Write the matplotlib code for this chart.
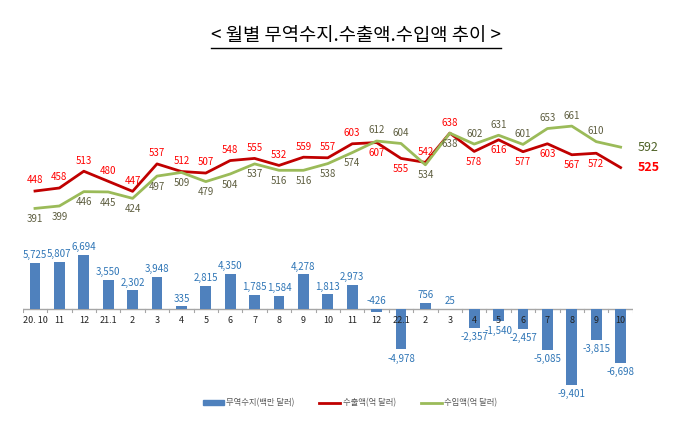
import matplotlib
matplotlib.use('Agg')
import matplotlib.pyplot as plt
from matplotlib.lines import Line2D
from matplotlib.patches import Patch
import numpy as np

plt.rcParams['font.family'] = ['Noto Sans CJK KR', 'DejaVu Sans']

months = ['20. 10', '11', '12', '21.1', '2', '3', '4', '5', '6', '7', '8', '9', '10',
          '11', '12', '22.1', '2', '3', '4', '5', '6', '7', '8', '9', '10']
balance = [5725, 5807, 6694, 3550, 2302, 3948, 335, 2815, 4350, 1785, 1584, 4278, 1813,
           2973, -426, -4978, 756, 25, -2357, -1540, -2457, -5085, -9401, -3815, -6698]
exports = [448, 458, 513, 480, 447, 537, 512, 507, 548, 555, 532, 559, 557,
           603, 607, 555, 542, 638, 578, 616, 577, 603, 567, 572, 525]
imports = [391, 399, 446, 445, 424, 497, 509, 479, 504, 537, 516, 516, 538,
           574, 612, 604, 534, 638, 602, 631, 601, 653, 661, 610, 592]
# label above (1) or below (-1) the line
exp_pos = [1] * 14 + [-1, -1, 1, 1, -1, -1, -1, -1, -1, -1]
imp_pos = [-1] * 14 + [1, 1, -1, -1, 1, 1, 1, 1, 1, 1]

BLUE = '#4F81BD'
RED = '#C00000'
GREEN = '#9BBB59'

fig = plt.figure(figsize=(6.81, 4.30), dpi=100)
W, H = 681, 430
ax = fig.add_axes([22.8 / W, 1 - 395 / H, 610 / W, 325 / H])
ax2 = ax.twinx()
x = np.arange(len(months))

ax.bar(x, balance, width=0.45, color=BLUE, zorder=2)
ax.set_xlim(-0.5, len(months) - 0.5)
ax.set_ylim(-10617, 29506)
ax.axhline(0, color='#A6A6A6', lw=1, zorder=1)
for b in np.arange(-0.5, len(months), 1):
    ax.plot([b, b], [0, -400], color='#A6A6A6', lw=0.8, zorder=1)

for i, v in enumerate(balance):
    # small negative values get their label above the axis, like the original
    if v >= 0 or v > -1000:
        ax.annotate(f'{v:,}', (i, max(v, 0)), xytext=(0, 2), textcoords='offset points',
                    ha='center', va='bottom', fontsize=7, color='#2E75B6')
    else:
        ax.annotate(f'{v:,}', (i, v), xytext=(0, -3), textcoords='offset points',
                    ha='center', va='top', fontsize=7, color='#2E75B6')
for i, m in enumerate(months):
    ax.annotate(m, (i, 0), xytext=(0, -5), textcoords='offset points',
                ha='center', va='top', fontsize=6.5, color='#222222', zorder=5)

ax2.plot(x, exports, color=RED, lw=2, zorder=3)
ax2.plot(x, imports, color=GREEN, lw=2, zorder=3)
ax2.set_ylim(-221, 845)

for i in range(len(months) - 1):
    d = exp_pos[i]
    ax2.annotate(str(exports[i]), (i, exports[i]), xytext=(0, 4 * d), textcoords='offset points',
                 ha='center', va='bottom' if d > 0 else 'top', fontsize=7, color='#FF0000')
    d = imp_pos[i]
    ax2.annotate(str(imports[i]), (i, imports[i]), xytext=(0, 4 * d), textcoords='offset points',
                 ha='center', va='bottom' if d > 0 else 'top', fontsize=7, color='#5E5E40')
last = len(months) - 1
ax2.annotate(str(exports[last]), (last, exports[last]), xytext=(12, 0), textcoords='offset points',
             ha='left', va='center', fontsize=9, fontweight='bold', color='#FF0000')
ax2.annotate(str(imports[last]), (last, imports[last]), xytext=(12, 0), textcoords='offset points',
             ha='left', va='center', fontsize=9, color='#4F6228')

for a in (ax, ax2):
    for s in a.spines.values():
        s.set_visible(False)
    a.set_xticks([])
    a.set_yticks([])

title = fig.text(356 / W, 1 - 36 / H, '< 월별 무역수지.수출액.수입액 추이 >',
                 ha='center', va='center', fontsize=13.5, color='black')
fig.canvas.draw()
bb = title.get_window_extent(fig.canvas.get_renderer())
fig.add_artist(Line2D([bb.x0 / W, bb.x1 / W], [(bb.y0 - 1) / H] * 2, color='black', lw=1))

handles = [Patch(color=BLUE), Line2D([], [], color=RED, lw=2), Line2D([], [], color=GREEN, lw=2)]
fig.legend(handles, ['무역수지(백만 달러)', '수출액(억 달러)', '수입액(억 달러)'],
           loc='center', bbox_to_anchor=(350 / W, 1 - 403 / H), ncol=3, frameon=False,
           fontsize=6, labelcolor='#595959', handlelength=2.5, handleheight=0.6,
           columnspacing=3, handletextpad=0.3)

fig.savefig('out.png', dpi=100)
